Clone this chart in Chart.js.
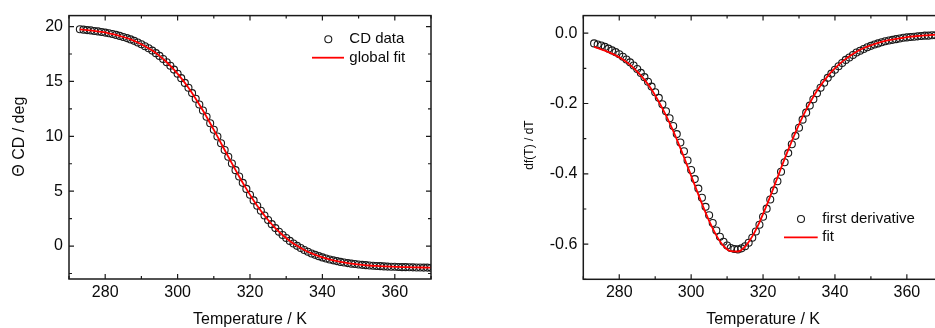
<!DOCTYPE html>
<html>
<head>
<meta charset="utf-8">
<script src="https://cdn.jsdelivr.net/npm/chart.js@4.4.0/dist/chart.umd.min.js"></script>
<style>
  html, body { margin: 0; padding: 0; background: #fff; overflow: hidden; }
  body { width: 935px; height: 328px; position: relative; }
  canvas { position: absolute; top: 0; }
  #cdChart { left: 0; }
  #derivChart { left: 470px; }
</style>
</head>
<body>
<canvas id="cdChart" width="470" height="328"></canvas>
<canvas id="derivChart" width="480" height="328"></canvas>
<script>
// measured temperatures (K)
const temperature = [
  273, 274, 275, 276, 277, 278, 279, 280, 281, 282, 283, 284, 285, 286, 287, 288, 289, 290,
  291, 292, 293, 294, 295, 296, 297, 298, 299, 300, 301, 302, 303, 304, 305, 306, 307, 308,
  309, 310, 311, 312, 313, 314, 315, 316, 317, 318, 319, 320, 321, 322, 323, 324, 325, 326,
  327, 328, 329, 330, 331, 332, 333, 334, 335, 336, 337, 338, 339, 340, 341, 342, 343, 344,
  345, 346, 347, 348, 349, 350, 351, 352, 353, 354, 355, 356, 357, 358, 359, 360, 361, 362,
  363, 364, 365, 366, 367, 368, 369, 370
];

// CD signal (deg)
const cdSignal = [
  19.75, 19.72, 19.68, 19.65, 19.60, 19.56, 19.51, 19.45, 19.39, 19.32, 19.24, 19.15, 19.05, 18.95, 18.83, 18.70, 18.55, 18.39,
  18.21, 18.02, 17.81, 17.58, 17.33, 17.05, 16.75, 16.43, 16.08, 15.70, 15.30, 14.87, 14.42, 13.94, 13.43, 12.90, 12.35, 11.78,
  11.19, 10.60, 9.99, 9.37, 8.75, 8.14, 7.53, 6.92, 6.34, 5.76, 5.21, 4.67, 4.16, 3.68, 3.22, 2.78, 2.38, 2.00,
  1.64, 1.31, 1.01, 0.73, 0.47, 0.23, 0.02, -0.18, -0.36, -0.52, -0.67, -0.80, -0.92, -1.03, -1.13, -1.22, -1.30, -1.37,
  -1.44, -1.50, -1.55, -1.60, -1.64, -1.68, -1.71, -1.74, -1.77, -1.79, -1.81, -1.83, -1.85, -1.87, -1.88, -1.89, -1.90, -1.92,
  -1.92, -1.93, -1.94, -1.95, -1.95, -1.96, -1.96, -1.97
];

// first derivative of the CD signal (deg/K)
const firstDerivative = [
  -0.029, -0.032, -0.035, -0.039, -0.044, -0.049, -0.054, -0.060, -0.067, -0.075, -0.083, -0.092, -0.102, -0.113, -0.125, -0.138, -0.152, -0.168,
  -0.184, -0.202, -0.222, -0.242, -0.264, -0.287, -0.311, -0.336, -0.362, -0.389, -0.415, -0.442, -0.468, -0.494, -0.518, -0.540, -0.561, -0.579,
  -0.593, -0.604, -0.611, -0.614, -0.615, -0.612, -0.606, -0.596, -0.582, -0.564, -0.545, -0.522, -0.499, -0.473, -0.447, -0.421, -0.394, -0.367,
  -0.341, -0.316, -0.292, -0.269, -0.246, -0.226, -0.206, -0.188, -0.171, -0.155, -0.141, -0.127, -0.115, -0.104, -0.094, -0.085, -0.076, -0.069,
  -0.062, -0.055, -0.050, -0.045, -0.040, -0.036, -0.032, -0.029, -0.026, -0.023, -0.021, -0.019, -0.017, -0.015, -0.013, -0.012, -0.011, -0.010,
  -0.009, -0.008, -0.007, -0.007, -0.006, -0.006, -0.005, -0.005
];

// temperatures at which the fitted curves are evaluated
const fitTemperature = [
  273, 275, 277, 279, 281, 283, 285, 287, 289, 291, 293, 295, 297, 299, 301, 303, 305, 307, 309, 311,
  313, 315, 317, 319, 321, 323, 325, 327, 329, 331, 333, 335, 337, 339, 341, 343, 345, 347, 349, 351,
  353, 355, 357, 359, 361, 363, 365, 367, 369, 370
];

const cdFit = [
  19.75, 19.68, 19.60, 19.51, 19.39, 19.24, 19.05, 18.83, 18.55, 18.21, 17.81, 17.33, 16.75, 16.08, 15.30, 14.42, 13.43, 12.35, 11.19, 9.99,
  8.75, 7.53, 6.34, 5.21, 4.16, 3.22, 2.38, 1.64, 1.01, 0.47, 0.02, -0.36, -0.67, -0.92, -1.13, -1.30, -1.44, -1.55, -1.64, -1.71,
  -1.77, -1.81, -1.85, -1.88, -1.90, -1.92, -1.94, -1.95, -1.96, -1.97
];

const derivativeFit = [
  -0.039, -0.046, -0.054, -0.063, -0.075, -0.090, -0.109, -0.132, -0.160, -0.195, -0.234, -0.278, -0.327, -0.379, -0.432, -0.485, -0.534, -0.575, -0.605, -0.620,
  -0.621, -0.607, -0.578, -0.538, -0.490, -0.438, -0.384, -0.332, -0.283, -0.238, -0.199, -0.164, -0.135, -0.110, -0.090, -0.073, -0.059, -0.047, -0.038, -0.031,
  -0.025, -0.020, -0.016, -0.013, -0.010, -0.008, -0.0065, -0.005, -0.004, -0.0037
];

const xTickValues = [280, 300, 320, 340, 360];
const cdTickValues = [0, 5, 10, 15, 20];
const derivTickValues = [-0.6, -0.4, -0.2, 0.0];

const FONT = "'Liberation Sans', Arial, Helvetica, sans-serif";
const INK = '#0a0a0a';
const FIT_RED = '#ff0000';
const MARKER_R = 3.5;

function toPoints(xs, ys) {
  return xs.map((x, i) => ({ x: x, y: ys[i] }));
}

// major ticks come from the scale, minor ones fill in at a fixed step
function tickList(scale, minorStep) {
  const majors = scale.ticks.map(t => t.value);
  const list = majors.map(v => ({ value: v, major: true }));
  const first = Math.ceil(scale.min / minorStep - 1e-6);
  const last = Math.floor(scale.max / minorStep + 1e-6);
  for (let i = first; i <= last; i++) {
    const v = i * minorStep;
    if (!majors.some(m => Math.abs(m - v) < minorStep / 100)) list.push({ value: v, major: false });
  }
  return list;
}

// closed frame with inward ticks on all four sides, axis titles and the in-plot legend
const framePlugin = {
  id: 'frame',
  afterDraw(chart, args, opts) {
    const ctx = chart.ctx;
    const a = chart.chartArea;
    const xs = chart.scales.x;
    const ys = chart.scales.y;
    ctx.save();

    ctx.strokeStyle = '#1a1a1a';
    ctx.lineWidth = 1.5;
    ctx.strokeRect(a.left, a.top, a.right - a.left, a.bottom - a.top);

    ctx.lineWidth = 1.2;
    ctx.beginPath();
    tickList(xs, opts.xMinor).forEach(t => {
      const px = xs.getPixelForValue(t.value);
      const len = t.major ? 5 : 3;
      ctx.moveTo(px, a.bottom); ctx.lineTo(px, a.bottom - len);
      ctx.moveTo(px, a.top); ctx.lineTo(px, a.top + len);
    });
    tickList(ys, opts.yMinor).forEach(t => {
      const py = ys.getPixelForValue(t.value);
      const len = t.major ? 5 : 3;
      ctx.moveTo(a.left, py); ctx.lineTo(a.left + len, py);
      ctx.moveTo(a.right, py); ctx.lineTo(a.right - len, py);
    });
    ctx.stroke();

    // axis titles
    ctx.fillStyle = INK;
    ctx.textAlign = 'center';
    ctx.textBaseline = 'middle';
    ctx.font = '16px ' + FONT;
    ctx.fillText(opts.xTitle.text, (a.left + a.right) / 2, opts.xTitle.y);
    ctx.save();
    ctx.translate(opts.yTitle.x, opts.yTitle.y);
    ctx.rotate(-Math.PI / 2);
    ctx.font = opts.yTitle.size + 'px ' + FONT;
    ctx.fillText(opts.yTitle.text, 0, 0);
    ctx.restore();

    // legend: marker row then line row
    const lg = opts.legend;
    const sets = chart.data.datasets;
    ctx.font = '15px ' + FONT;
    ctx.textAlign = 'left';
    sets.forEach((ds, i) => {
      const y = lg.rows[i];
      ctx.strokeStyle = ds.borderColor;
      ctx.lineWidth = ds.borderWidth;
      ctx.beginPath();
      if (ds.showLine) {
        ctx.moveTo(lg.lineFrom, y);
        ctx.lineTo(lg.lineTo, y);
      } else {
        ctx.arc(lg.symbolX, y, MARKER_R, 0, Math.PI * 2);
      }
      ctx.stroke();
      ctx.fillStyle = INK;
      ctx.fillText(ds.label, lg.textX, y);
    });

    ctx.restore();
  }
};

function buildChart(canvasId, p) {
  return new Chart(document.getElementById(canvasId), {
    type: 'scatter',
    data: {
      datasets: [
        {
          label: p.dataLabel,
          data: toPoints(temperature, p.values),
          showLine: false,
          pointRadius: MARKER_R,
          pointBorderWidth: 1.1,
          borderWidth: 1.1,
          borderColor: '#1a1a1a',
          pointBorderColor: '#1a1a1a',
          pointBackgroundColor: 'rgba(0,0,0,0)',
          order: 1
        },
        {
          label: p.fitLabel,
          data: toPoints(fitTemperature, p.fit),
          showLine: true,
          pointRadius: 0,
          borderColor: FIT_RED,
          borderWidth: 1.8,
          cubicInterpolationMode: 'monotone',
          order: 0
        }
      ]
    },
    options: {
      responsive: false,
      animation: false,
      devicePixelRatio: 1,
      layout: { padding: p.padding },
      plugins: {
        legend: { display: false },
        tooltip: { enabled: false },
        frame: p.frame
      },
      scales: {
        x: {
          type: 'linear',
          min: 270,
          max: 370,
          afterBuildTicks: s => { s.ticks = xTickValues.map(v => ({ value: v })); },
          afterFit: s => { s.height = p.xAxisHeight; },
          grid: { display: false, drawTicks: false },
          border: { display: false },
          ticks: { padding: 4, maxRotation: 0, color: INK, font: { family: FONT, size: 16 } }
        },
        y: {
          type: 'linear',
          min: p.yMin,
          max: p.yMax,
          afterBuildTicks: s => { s.ticks = p.yTicks.map(v => ({ value: v })); },
          afterFit: s => { s.width = p.yAxisWidth; },
          grid: { display: false, drawTicks: false },
          border: { display: false },
          ticks: { padding: 6, color: INK, font: { family: FONT, size: 16 }, callback: p.yFormat }
        }
      }
    },
    plugins: [framePlugin]
  });
}

buildChart('cdChart', {
  dataLabel: 'CD data',
  fitLabel: 'global fit',
  values: cdSignal,
  fit: cdFit,
  yMin: -3,
  yMax: 21,
  yTicks: cdTickValues,
  yFormat: v => String(v),
  padding: { left: 0, top: 10, right: 39, bottom: 0 },
  yAxisWidth: 69,
  xAxisHeight: 49,
  frame: {
    xMinor: 10,
    yMinor: 2.5,
    xTitle: { text: 'Temperature / K', y: 320 },
    yTitle: { text: 'Θ CD / deg', x: 20, y: 136.7, size: 16 },
    legend: { symbolX: 328.3, lineFrom: 312, lineTo: 344, textX: 349.3, rows: [39.3, 57.7] }
  }
});

buildChart('derivChart', {
  dataLabel: 'first derivative',
  fitLabel: 'fit',
  values: firstDerivative,
  fit: derivativeFit,
  yMin: -0.7,
  yMax: 0.05,
  yTicks: derivTickValues,
  yFormat: v => v.toFixed(1),
  padding: { left: 0, top: 12.3, right: 7.2, bottom: 0 },
  yAxisWidth: 113.3,
  xAxisHeight: 48.7,
  frame: {
    xMinor: 10,
    yMinor: 0.1,
    xTitle: { text: 'Temperature / K', y: 320 },
    yTitle: { text: 'df(T) / dT', x: 59.3, y: 145, size: 12 },
    legend: { symbolX: 331, lineFrom: 314, lineTo: 347.7, textX: 352.3, rows: [219, 237.3] }
  }
});
</script>
</body>
</html>
